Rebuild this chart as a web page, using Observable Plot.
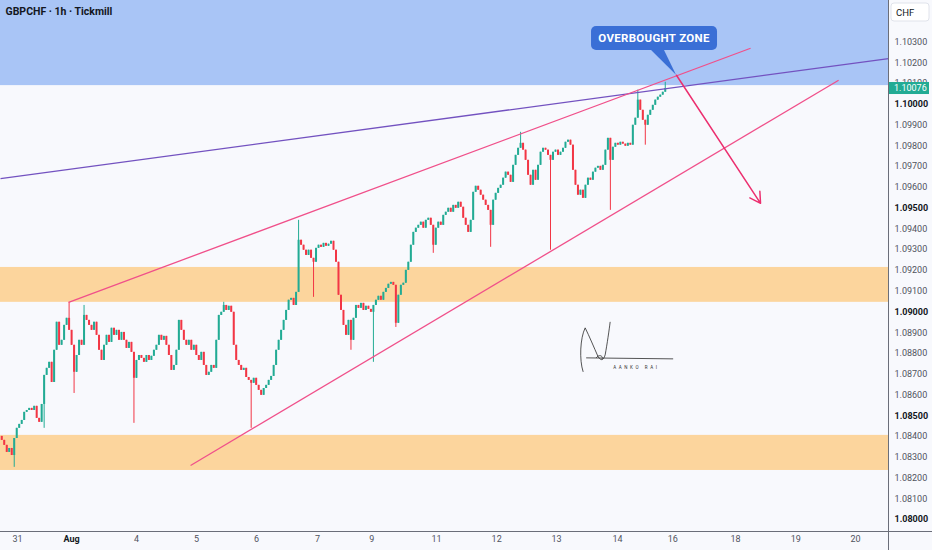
<!DOCTYPE html>
<html><head><meta charset="utf-8">
<script src="https://cdn.jsdelivr.net/npm/d3@7"></script>
<script src="https://cdn.jsdelivr.net/npm/@observablehq/plot@0.6"></script>
<style>
html,body{margin:0;padding:0;background:#f8f9fd;}
#chart{width:932px;height:550px;overflow:hidden;}
</style></head><body><div id="chart"></div>
<script>
// ---- data (GBPCHF, 1h bars) ----
const firstOpen = 1.08400;
const closes = [
1.08381,1.08357,1.08323,1.08342,1.08308,1.08390,1.08439,1.08458,1.08477,1.08516,
1.08525,1.08535,1.08525,1.08545,1.08487,1.08468,1.08554,1.08694,1.08728,1.08757,
1.08660,1.08815,1.08950,1.08839,1.08863,1.08935,1.08969,1.08911,1.08839,1.08709,
1.08790,1.08863,1.08839,1.08983,1.08959,1.08935,1.08911,1.08950,1.08887,1.08815,
1.08766,1.08839,1.08887,1.08853,1.08921,1.08887,1.08911,1.08863,1.08901,1.08863,
1.08824,1.08853,1.08805,1.08680,1.08766,1.08790,1.08776,1.08757,1.08790,1.08766,
1.08786,1.08815,1.08839,1.08887,1.08863,1.08882,1.08839,1.08790,1.08718,1.08742,
1.08815,1.08959,1.08911,1.08863,1.08839,1.08863,1.08815,1.08839,1.08790,1.08766,
1.08805,1.08742,1.08694,1.08709,1.08742,1.08728,1.08863,1.08983,1.08998,1.09031,
1.09007,1.09027,1.08998,1.08839,1.08766,1.08742,1.08718,1.08728,1.08684,1.08670,
1.08656,1.08680,1.08646,1.08622,1.08598,1.08631,1.08646,1.08670,1.08689,1.08742,
1.08815,1.08863,1.08911,1.08959,1.09007,1.09056,1.09065,1.09031,1.09094,1.09345,
1.09321,1.09297,1.09272,1.09297,1.09258,1.09239,1.09306,1.09321,1.09311,1.09330,
1.09316,1.09326,1.09340,1.09297,1.09239,1.09080,1.09007,1.08935,1.08887,1.08959,
1.08863,1.08969,1.09031,1.09017,1.09041,1.09007,1.09027,1.09012,1.08998,1.09031,
1.09056,1.09075,1.09056,1.09094,1.09113,1.09133,1.09142,1.09128,1.08945,1.09080,
1.09128,1.09138,1.09200,1.09239,1.09321,1.09383,1.09403,1.09417,1.09432,1.09403,
1.09441,1.09451,1.09417,1.09321,1.09403,1.09432,1.09417,1.09465,1.09480,1.09499,
1.09480,1.09513,1.09499,1.09528,1.09504,1.09451,1.09417,1.09383,1.09441,1.09576,
1.09605,1.09586,1.09562,1.09538,1.09513,1.09489,1.09417,1.09538,1.09571,1.09595,
1.09610,1.09644,1.09673,1.09658,1.09624,1.09706,1.09754,1.09788,1.09812,1.09779,
1.09730,1.09658,1.09610,1.09682,1.09634,1.09706,1.09769,1.09788,1.09779,1.09754,
1.09730,1.09769,1.09779,1.09754,1.09769,1.09788,1.09817,1.09827,1.09803,1.09682,
1.09610,1.09562,1.09586,1.09547,1.09610,1.09644,1.09634,1.09673,1.09692,1.09701,
1.09682,1.09706,1.09779,1.09836,1.09730,1.09793,1.09812,1.09803,1.09817,1.09808,
1.09798,1.09812,1.09803,1.09899,1.09933,1.10020,1.09971,1.09923,1.09899,1.09947,
1.09971,1.09995,1.10020,1.10034,1.10044,1.10058,1.10076
];
// notable wicks: [bar index, price]
const wickHighs = [[27,1.09046],[33,1.09031],[89,1.09046],[119,1.09441],[208,1.09865],[255,1.10068],[266,1.10106]];
const wickLows = [[5,1.08251],[17,1.08439],[29,1.08607],[53,1.08463],[100,1.08439],[125,1.09070],[140,1.08815],
  [149,1.08757],[158,1.08925],[173,1.09282],[196,1.09311],[220,1.09297],[244,1.09489],[258,1.09803]];

// shaded zones
const zoneNames = ["overbought", "resistance", "support"];
const zoneLows  = [1.10090, 1.09046, 1.08236];
const zoneHighs = [1.10500, 1.09214, 1.08405];

// drawn lines: [bar index, price]
const lineNames  = ["long trend", "upper channel", "lower channel"];
const lineStarts = [[-0.5, 1.09642], [26.8, 1.09046], [75.7, 1.08260]];
const lineEnds   = [[355.5, 1.10220], [300.2, 1.10270], [335.5, 1.10116]];
const arrowStart = [270.5, 1.10140];
const arrowEnd   = [304.2, 1.09523];

// callout
const calloutText = "OVERBOUGHT ZONE";
const calloutAt = [261.7, 1.10317];
const calloutTip = [270.5, 1.10140];
const signatureAt = [236.1, 1.08776];
const signatureText = "AANKO RAI";

// axes
const yTicks = [1.080,1.081,1.082,1.083,1.084,1.085,1.086,1.087,1.088,1.089,1.090,1.091,1.092,
  1.093,1.094,1.095,1.096,1.097,1.098,1.099,1.100,1.101,1.102,1.103];
const yBoldTicks = [1.080,1.085,1.090,1.095,1.100];
const xTickPos    = [6.3, 28.0, 54.0, 78.1, 102.1, 126.6, 148.3, 174.3, 198.4, 222.4, 246.9, 269.0, 294.2, 318.3, 342.3];
const xTickLabels = ["31","Aug","4","5","6","7","9","11","12","13","14","16","18","19","20"];
const lastPrice = 1.10076;
const title = "GBPCHF · 1h · Tickmill";
const currency = "CHF";

// ---- build ----
const xDomain = [-0.5, 355.5];
const yDomain = [1.07942, 1.10500];
const UP = "#22ab94", DOWN = "#f23645";
const candles = closes.map((c, i) => {
  const o = i === 0 ? firstOpen : closes[i - 1];
  return {i, open: o, close: c, high: Math.max(o, c), low: Math.min(o, c)};
});
wickHighs.forEach(([i, h]) => candles[i].high = h);
wickLows.forEach(([i, l]) => candles[i].low = l);
const zoneFill = {overbought: "#a9c5f6", resistance: "#fcd59d", support: "#fcd59d"};
const zones = zoneNames.map((n, k) => ({name: n, low: zoneLows[k], high: zoneHighs[k], color: zoneFill[n]}));
const lineStroke = {"long trend": "#7352c0", "upper channel": "#f0508a", "lower channel": "#f0508a"};
const lines = lineNames.map((n, k) => ({name: n, x1: lineStarts[k][0], y1: lineStarts[k][1], x2: lineEnds[k][0], y2: lineEnds[k][1], color: lineStroke[n]}));
const xTicks = xTickPos.map((p, k) => ({p, label: xTickLabels[k]}));
const fmt = d3.format(".5f");
const FONT = "Roboto, 'Liberation Sans', sans-serif";

const plot = Plot.plot({
  width: 932, height: 550,
  marginLeft: 0, marginRight: 44, marginTop: 0, marginBottom: 19,
  x: {domain: xDomain, axis: null},
  y: {domain: yDomain, axis: null},
  color: {type: "identity"},
  style: {background: "#f8f9fd", fontFamily: FONT},
  marks: [
    Plot.rect(zones, {x1: xDomain[0], x2: xDomain[1], y1: "low", y2: "high", fill: "color"}),
    Plot.ruleX(candles, {x: "i", y1: "low", y2: "high", stroke: d => d.close >= d.open ? UP : DOWN, strokeWidth: 1}),
    Plot.ruleX(candles, {x: "i", y1: "open", y2: "close", stroke: d => d.close >= d.open ? UP : DOWN, strokeWidth: 2}),
    Plot.link(lines, {x1: "x1", y1: "y1", x2: "x2", y2: "y2", stroke: "color", strokeWidth: 1.3}),
    Plot.arrow([{a: arrowStart, b: arrowEnd}], {x1: d => d.a[0], y1: d => d.a[1], x2: d => d.b[0], y2: d => d.b[1],
      stroke: "#ec2f6f", strokeWidth: 1.5, headLength: 12, bend: 0}),
    Plot.text(yTicks.filter(t => !yBoldTicks.includes(t)), {y: d => d, frameAnchor: "right", dx: 6, textAnchor: "start",
      text: d => fmt(d), fontSize: 9, fill: "#50535e"}),
    Plot.text(yBoldTicks, {y: d => d, frameAnchor: "right", dx: 6, textAnchor: "start",
      text: d => fmt(d), fontSize: 9, fontWeight: "bold", fill: "#131722"}),
    Plot.text(xTicks.filter(d => d.label !== "Aug"), {x: "p", frameAnchor: "bottom", dy: 10, text: "label", fontSize: 9, fill: "#50535e"}),
    Plot.text(xTicks.filter(d => d.label === "Aug"), {x: "p", frameAnchor: "bottom", dy: 10, text: "label", fontSize: 9, fontWeight: "bold", fill: "#131722"}),
    Plot.text([title], {frameAnchor: "top-left", dx: 5, dy: 11, text: d => d, fontSize: 10.5, fontWeight: "bold", fill: "#131722", lineAnchor: "middle"})
  ]
});
document.getElementById("chart").appendChild(plot);

const sx = plot.scale("x"), sy = plot.scale("y");
const svg = d3.select(plot);
const W = 932, H = 550;
const axX = sx.apply(xDomain[1]), axY = sy.apply(yDomain[0]);
// axis borders
svg.append("line").attr("x1", axX + 0.5).attr("x2", axX + 0.5).attr("y1", 0).attr("y2", H).attr("stroke", "#6b6e79").attr("stroke-width", 1);
svg.append("line").attr("x1", 0).attr("x2", W).attr("y1", axY + 0.5).attr("y2", axY + 0.5).attr("stroke", "#6b6e79").attr("stroke-width", 1);
// currency box
svg.append("rect").attr("x", axX + 3).attr("y", 3).attr("width", 38).attr("height", 18).attr("rx", 3)
  .attr("fill", "#ffffff").attr("stroke", "#e0e3eb");
svg.append("text").attr("x", axX + 8).attr("y", 15.5).attr("text-anchor", "start").attr("font-size", 9.5)
  .attr("font-family", FONT).attr("fill", "#131722").text(currency);
// last price tag
const ly = sy.apply(lastPrice);
svg.append("rect").attr("x", axX + 1).attr("y", ly - 6).attr("width", 40).attr("height", 12).attr("fill", UP);
svg.append("text").attr("x", axX + 6).attr("y", ly + 3.3).attr("text-anchor", "start").attr("font-size", 9)
  .attr("font-family", FONT).attr("fill", "#ffffff").text(fmt(lastPrice));
// callout
const cx = sx.apply(calloutAt[0]), cy = sy.apply(calloutAt[1]);
const tx = sx.apply(calloutTip[0]), ty = sy.apply(calloutTip[1]);
const g = svg.append("g");
g.append("path").attr("d", `M${cx - 5},${cy + 10} L${cx + 9},${cy + 10} L${tx},${ty} Z`).attr("fill", "#3a6fd6");
g.append("rect").attr("x", cx - 63).attr("y", cy - 12).attr("width", 126).attr("height", 24).attr("rx", 5).attr("fill", "#3a6fd6");
g.append("text").attr("x", cx).attr("y", cy + 4.2).attr("text-anchor", "middle").attr("font-size", 11.5)
  .attr("font-weight", "bold").attr("font-family", FONT).attr("fill", "#ffffff").attr("letter-spacing", 0.3).text(calloutText);
// signature
const gx = sx.apply(signatureAt[0]), gy = sy.apply(signatureAt[1]);
const sg = svg.append("g").attr("transform", `translate(${gx},${gy})`).attr("fill", "none").attr("stroke", "#2a2a2a").attr("stroke-width", 0.8);
sg.append("path").attr("d", "M-7,14 C-11,2 -10,-20 -5,-30 C-1,-22 4,-10 8,-1 C11,3 13,3 15,-3 C17,-14 19,-28 20,-36");
sg.append("path").attr("d", "M-4,0 L83,1");
sg.append("path").attr("d", "M6,0 C9,-4 13,-2 12,1");
sg.append("text").attr("x", 23).attr("y", 11).attr("text-anchor", "start").attr("stroke", "none").attr("fill", "#333").attr("font-size", 4.5)
  .attr("font-family", FONT).attr("letter-spacing", 2.6).text(signatureText);
</script>
</body></html>
